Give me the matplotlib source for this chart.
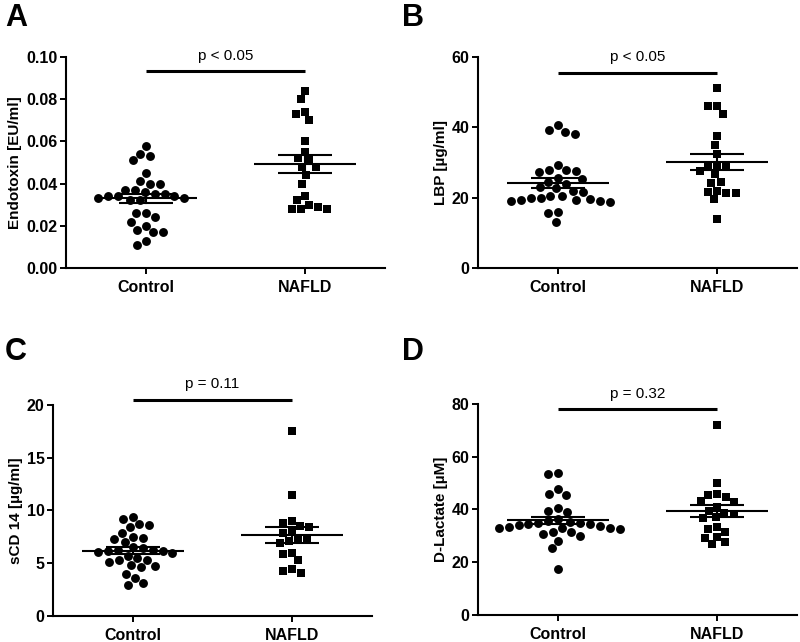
import numpy as np
import matplotlib.pyplot as plt

plt.rcParams['font.family'] = ['Liberation Sans', 'DejaVu Sans']

groups = ['Control', 'NAFLD']

# values
endotoxin_control = [0.058, 0.053, 0.054, 0.051, 0.045, 0.041, 0.040, 0.040, 0.037, 0.037,
                     0.035, 0.036, 0.035, 0.034, 0.034, 0.033, 0.032, 0.032, 0.033, 0.034,
                     0.026, 0.026, 0.024, 0.022, 0.020, 0.017, 0.017, 0.018, 0.013, 0.011]
endotoxin_nafld = [0.084, 0.080, 0.073, 0.074, 0.070, 0.060, 0.055, 0.052, 0.051, 0.048,
                   0.048, 0.044, 0.040, 0.034, 0.030, 0.028, 0.028, 0.028, 0.029, 0.032]

lbp_control = [40.7, 38.8, 38.0, 39.2, 29.2, 27.8, 27.6, 27.3, 27.9, 25.3,
               24.5, 25.5, 24.0, 23.0, 22.7, 21.9, 21.5, 20.4, 19.9, 19.4,
               18.9, 18.7, 18.9, 19.2, 19.6, 20.0, 20.4, 16.0, 15.7, 13.2]
lbp_nafld = [51.2, 46.0, 46.0, 43.9, 37.6, 35.0, 32.4, 29.3, 28.8, 29.0,
             26.7, 27.7, 24.3, 24.5, 21.7, 21.2, 21.4, 22.0, 19.5, 13.8]

scd14_control = [9.2, 8.6, 8.7, 9.4, 8.4, 7.9, 7.4, 7.3, 7.5, 7.0,
                 6.4, 6.5, 6.3, 6.2, 6.3, 6.1, 6.2, 6.0, 5.7, 5.3,
                 5.1, 5.5, 5.3, 4.7, 4.6, 4.8, 4.0, 3.6, 3.1, 2.9]
scd14_nafld = [17.5, 11.5, 9.0, 8.8, 8.5, 8.4, 7.9, 8.0, 7.3, 6.9,
               7.3, 7.1, 5.9, 5.3, 6.0, 4.5, 4.1, 4.3]

dlactate_control = [54.0, 53.5, 47.9, 45.9, 45.6, 40.6, 39.6, 38.9, 36.5, 35.5,
                    34.8, 34.1, 33.5, 33.1, 32.6, 31.6, 30.6, 31.3, 32.9, 33.1,
                    33.9, 34.4, 35.4, 34.5, 35.0, 29.8, 28.2, 25.2, 17.4]
dlactate_nafld = [72.1, 50.0, 45.5, 43.2, 43.0, 44.7, 45.7, 41.0, 39.5, 38.4,
                  37.0, 36.8, 38.7, 32.6, 31.5, 33.2, 29.3, 29.6, 26.8, 27.6]

p_texts = ['p < 0.05', 'p < 0.05', 'p = 0.11', 'p = 0.32']
y_labels = ['Endotoxin [EU/ml]', 'LBP [\u00b5g/ml]', 'sCD 14 [\u00b5g/ml]', 'D-Lactate [\u00b5M]']

panels = [
    ('A', [0.0825, 0.5826, 0.3988, 0.3287], endotoxin_control, endotoxin_nafld,
     np.arange(0, 0.101, 0.02), '{:.2f}', 0.0934),
    ('B', [0.5975, 0.5826, 0.3988, 0.3287], lbp_control, lbp_nafld,
     np.arange(0, 61, 20), '{:.0f}', 55.5),
    ('C', [0.0663, 0.0405, 0.3988, 0.3287], scd14_control, scd14_nafld,
     np.arange(0, 21, 5), '{:.0f}', 20.5),
    ('D', [0.5975, 0.0421, 0.3988, 0.3287], dlactate_control, dlactate_nafld,
     np.arange(0, 81, 20), '{:.0f}', 78.1),
]
letter_pos = {'A': (5, 3), 'B': (402, 3), 'C': (5, 337), 'D': (402, 337)}


def swarm(vals, px_per_y, D):
    # beeswarm in pixel space: each point takes the free x nearest the centre
    vals = np.asarray(vals)
    placed = []
    offs = np.zeros(len(vals))
    for i in np.argsort(-vals):
        y = vals[i] * px_per_y
        blocks = []
        for px, py in placed:
            dy = abs(y - py)
            if dy < D:
                h = np.sqrt(D * D - dy * dy)
                blocks.append((px - h, px + h))
        cands = [0.0] + [e for b in blocks for e in b]
        cands.sort(key=lambda c: (round(abs(c), 6), c))
        for c in cands:
            if all(not (lo + 1e-6 < c < hi - 1e-6) for lo, hi in blocks):
                break
        placed.append((c, y))
        offs[i] = c
    return offs


fig = plt.figure(figsize=(8, 6.42), dpi=100)
W, H = 800, 642

for k, (letter, rect, ctrl, nafld, yticks, fmt, bar_y) in enumerate(panels):
    ax = fig.add_axes(rect)
    ymax = yticks[-1]
    ax.set_ylim(0, ymax)
    ax.set_xlim(-0.5, 1.5)
    ax_w = rect[2] * W
    ax_h = rect[3] * H
    px_x = ax_w / 2.0
    px_y = ax_h / ymax

    for i, (vals, marker, ms) in enumerate([(ctrl, 'o', 6.4), (nafld, 's', 6.0)]):
        vals = np.asarray(vals)
        d = ms * 100 / 72
        offs = swarm(vals, px_y, d * 1.12) / px_x
        ax.plot(i + offs, vals, marker, ms=ms, color='black', mec='black', mew=0,
                linestyle='none', zorder=2, clip_on=False)
        m = vals.mean()
        sem = vals.std(ddof=1) / np.sqrt(len(vals))
        ax.plot([i - 0.32, i + 0.32], [m, m], color='black', lw=1.5, zorder=3,
                solid_capstyle='butt')
        ax.plot([i - 0.17, i + 0.17], [m + sem, m + sem], color='black', lw=1.5, zorder=3,
                solid_capstyle='butt')
        ax.plot([i - 0.17, i + 0.17], [m - sem, m - sem], color='black', lw=1.5, zorder=3,
                solid_capstyle='butt')
        ax.plot([i, i], [m - sem, m + sem], color='black', lw=1.5, zorder=3)

    ax.plot([0, 1], [bar_y, bar_y], color='black', lw=2.2, clip_on=False,
            solid_capstyle='butt')
    ax.annotate(p_texts[k], xy=(0.5, bar_y), xytext=(0, 6), textcoords='offset points',
                ha='center', va='bottom', fontsize=11, annotation_clip=False)

    ax.set_xticks([0, 1])
    ax.set_xticklabels(groups, fontsize=11.5, fontweight='bold')
    ax.set_yticks(yticks)
    ax.set_yticklabels([fmt.format(t) for t in yticks], fontsize=11.5, fontweight='bold')
    ax.set_ylabel(y_labels[k], fontsize=11, fontweight='bold', labelpad=3)
    ax.tick_params(direction='out', length=4, width=1.4, pad=2)
    ax.tick_params(axis='x', pad=5)
    for s in ['top', 'right']:
        ax.spines[s].set_visible(False)
    for s in ['left', 'bottom']:
        ax.spines[s].set_linewidth(1.5)

    lx, ly = letter_pos[letter]
    fig.text(lx / W, 1 - ly / H, letter, fontsize=22, fontweight='bold',
             ha='left', va='top')

fig.savefig('out.png', dpi=100)
